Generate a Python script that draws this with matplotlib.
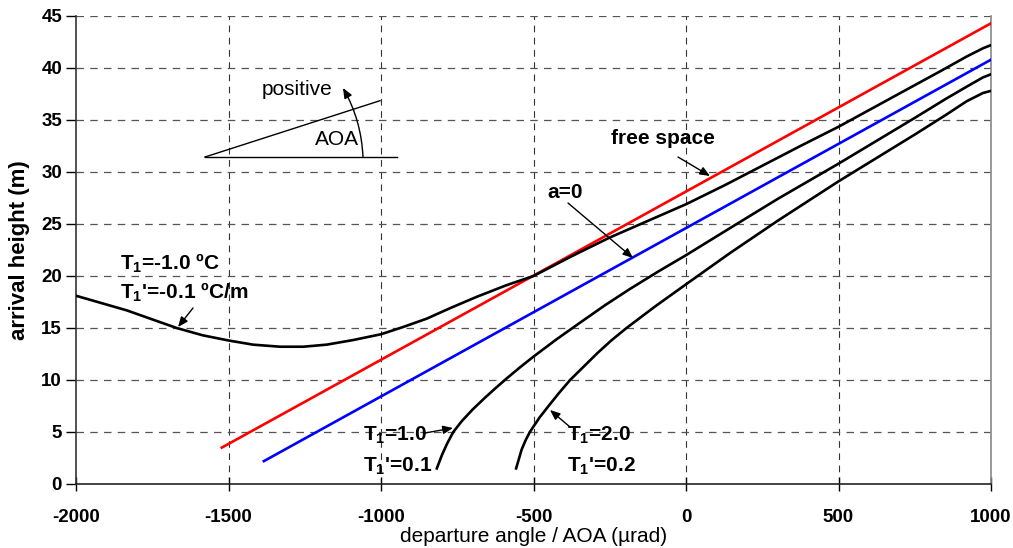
import matplotlib
matplotlib.use("Agg")
import matplotlib.pyplot as plt
import numpy as np

plt.rcParams['font.family'] = ['Liberation Sans', 'DejaVu Sans']
plt.rcParams['mathtext.fontset'] = 'custom'
plt.rcParams['mathtext.rm'] = 'Liberation Sans'
plt.rcParams['mathtext.bf'] = 'Liberation Sans:bold'
plt.rcParams['mathtext.it'] = 'Liberation Sans:italic'
plt.rcParams['axes.unicode_minus'] = False

# ---- data ----
free_x = [-1522, 1000]
free_y = [3.5, 44.3]

a0_x = [-1384, 1000]
a0_y = [2.2, 40.8]

neg_x = [-2000, -1834, -1670, -1585, -1500, -1420, -1331, -1255, -1178, -1090,
         -1000, -927, -850, -774, -686, -590, -500, -375, -250, -125, 0,
         125, 250, 375, 500, 625, 750, 850, 920, 974, 1000]
neg_y = [18.1, 16.7, 15.0, 14.3, 13.8, 13.4, 13.2, 13.2, 13.4, 13.85,
         14.4, 15.1, 15.9, 16.9, 18.0, 19.1, 20.0, 21.9, 23.7, 25.3, 26.9,
         28.7, 30.6, 32.5, 34.35, 36.35, 38.35, 39.95, 41.1, 41.9, 42.2]

t1_x = [-817, -800, -783, -763, -735, -700, -659, -625, -588, -545, -500, -425,
        -348, -265, -184, -90, 0, 144, 300, 500, 750, 850, 920, 974, 1000]
t1_y = [1.5, 2.8, 3.9, 5.0, 6.05, 7.15, 8.3, 9.2, 10.15, 11.2, 12.25, 13.9,
        15.5, 17.2, 18.75, 20.45, 22.0, 24.6, 27.4, 30.8, 35.2, 37.0, 38.2, 39.1, 39.4]

t2_x = [-557, -548, -539, -526, -512, -480, -448, -415, -380, -335, -290, -245,
        -195, -100, 0, 144, 300, 500, 750, 850, 920, 974, 1000]
t2_y = [1.5, 2.4, 3.3, 4.2, 5.0, 6.4, 7.6, 8.8, 10.0, 11.3, 12.6, 13.8,
        15.0, 17.1, 19.2, 22.2, 25.3, 29.1, 33.6, 35.45, 36.8, 37.6, 37.8]

x_ticks = [-2000, -1500, -1000, -500, 0, 500, 1000]
y_ticks = [0, 5, 10, 15, 20, 25, 30, 35, 40, 45]

W, H = 1013, 548
fig = plt.figure(figsize=(W / 100, H / 100), dpi=100)
L, R, T, B = 76, 991, 16, 484
ax = fig.add_axes([L / W, 1 - B / H, (R - L) / W, (B - T) / H])
ax.set_xlim(-2000, 1000)
ax.set_ylim(0, 45)


def P(xp, yp):
    """pixel position in the figure -> data coordinates (for annotation placement)"""
    return ((xp - L) / (R - L) * 3000 - 2000, (B - yp) / (B - T) * 45)


# grid
for xv in x_ticks[1:-1]:
    ax.axvline(xv, color='#333333', lw=0.8, dashes=(6, 5), zorder=1)
for yv in y_ticks[1:]:
    ax.axhline(yv, color='#555555', lw=0.9, dashes=(6, 5), zorder=1)

lw = 1.9
ax.plot(free_x, free_y, color='#ff0000', lw=lw, zorder=3)
ax.plot(a0_x, a0_y, color='#0000ff', lw=lw, zorder=3)
ax.plot(neg_x, neg_y, color='black', lw=lw, zorder=4, solid_joinstyle='round')
ax.plot(t1_x, t1_y, color='black', lw=lw, zorder=4, solid_joinstyle='round')
ax.plot(t2_x, t2_y, color='black', lw=lw, zorder=4, solid_joinstyle='round')

ax.set_xticks(x_ticks)
ax.set_yticks(y_ticks)
ax.tick_params(axis='x', direction='inout', length=10, width=1, labelsize=13.5, pad=13)
ax.tick_params(axis='y', direction='out', length=7, width=1, labelsize=13.5, pad=3)
for lab in ax.get_xticklabels() + ax.get_yticklabels():
    lab.set_fontweight('bold')

ax.spines['top'].set_visible(False)
ax.spines['right'].set_color('#888888')
ax.spines['right'].set_linewidth(1.2)
ax.spines['left'].set_color('#333333')
ax.spines['left'].set_linewidth(1.2)
ax.spines['bottom'].set_color('#222222')
ax.spines['bottom'].set_linewidth(1.2)

ax.set_xlabel('departure angle / AOA (µrad)', fontsize=15, labelpad=1)
ax.set_ylabel('arrival height (m)', fontsize=16, fontweight='bold', labelpad=8)

tk = dict(fontsize=15, fontweight='bold', ha='left', va='center', zorder=6)
arr = dict(arrowstyle='-|>,head_length=0.6,head_width=0.25', color='black', lw=1.0,
           shrinkA=0, shrinkB=0)

# AOA sketch
ax.plot(*zip(P(205, 157), P(397, 157)), color='black', lw=1.0)
ax.plot(*zip(P(205, 157), P(380, 100.7)), color='black', lw=1.0)
ax.annotate('', xy=P(343, 88), xytext=P(363, 157),
            arrowprops=dict(arr, connectionstyle='arc3,rad=0.12'))
ax.text(*P(262, 90), 'positive', fontsize=15, ha='left', va='center')
ax.text(*P(315, 140), 'AOA', fontsize=15, ha='left', va='center')

# T1 = -1.0
ax.text(*P(120, 263), r'T$_\mathbf{1}$=-1.0 ºC', **tk)
ax.text(*P(120, 292), r"T$_\mathbf{1}$'=-0.1 ºC/m", **tk)
ax.annotate('', xy=P(178, 327), xytext=P(193, 308), arrowprops=arr)

# free space
ax.text(*P(611, 139), 'free space', **tk)
ax.annotate('', xy=P(710, 176), xytext=P(678, 157), arrowprops=arr)

# a = 0
ax.text(*P(547, 193), 'a=0', **tk)
ax.annotate('', xy=P(633, 258), xytext=P(568, 203), arrowprops=arr)

# T1 = 1.0
ax.text(*P(363, 435), r'T$_\mathbf{1}$=1.0', **tk)
ax.text(*P(363, 466), r"T$_\mathbf{1}$'=0.1", **tk)
ax.annotate('', xy=P(453, 428), xytext=P(425, 433), arrowprops=arr)

# T1 = 2.0
ax.text(*P(567, 435), r'T$_\mathbf{1}$=2.0', **tk)
ax.text(*P(567, 466), r"T$_\mathbf{1}$'=0.2", **tk)
ax.annotate('', xy=P(550, 410), xytext=P(570, 427), arrowprops=arr)

fig.savefig('out.png', dpi=100)
